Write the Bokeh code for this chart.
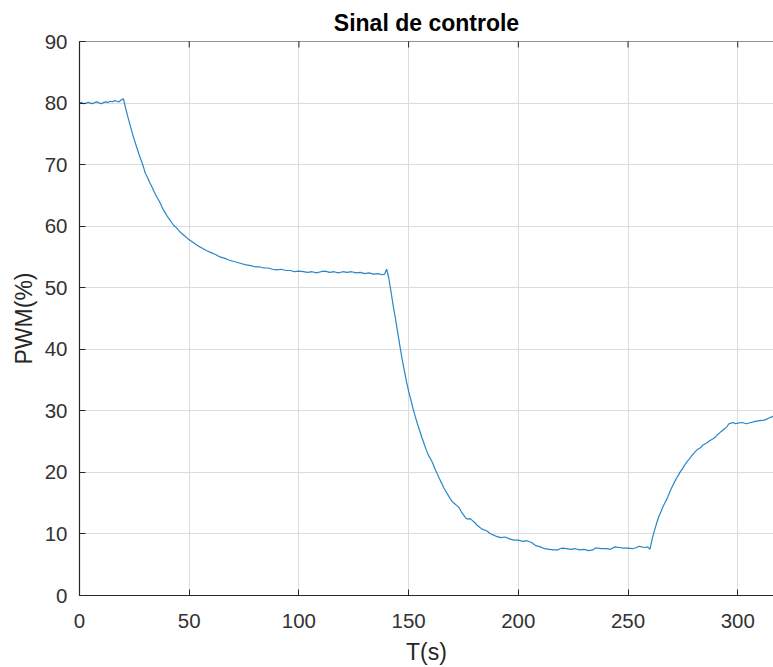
import math
from bokeh.plotting import figure
from bokeh.models import Range1d, FixedTicker, Span
from bokeh.embed import file_html
from bokeh.resources import INLINE

# ---- data ----
t_a = [0, 1, 2, 3, 4, 5, 6, 7, 8, 9, 10, 11, 12, 13, 14, 15, 16, 17, 18, 19, 20]
v_a = [80.0, 80.1, 79.9, 80.0, 80.1, 80.0, 79.9, 80.1, 80.2, 80.0, 79.9, 80.1,
       80.2, 80.1, 80.3, 80.2, 80.4, 80.3, 80.2, 80.5, 80.7]

t_b = [21, 22, 23, 24, 25, 26, 27, 28, 29, 30, 31, 32, 33, 34, 35, 36, 37, 38, 39,
       40, 41, 42, 43, 44, 45, 46, 47, 48, 49, 50, 52, 54, 56, 58, 60, 62, 64, 66,
       68, 70, 72, 74, 76, 78, 80, 82, 84, 86, 88, 90, 92, 94, 96, 98, 100, 102,
       104, 106, 108, 110, 112, 114, 116, 118, 120, 122, 124, 126, 128, 130, 132,
       134, 136, 138, 139, 140]
v_b = [79.2, 77.8, 76.5, 75.2, 74.0, 72.9, 71.8, 70.8, 69.8, 68.6, 67.9, 67.1,
       66.4, 65.6, 64.9, 64.3, 63.6, 62.8, 62.2, 61.6, 61.1, 60.6, 60.1, 59.8,
       59.4, 59.0, 58.7, 58.4, 58.1, 57.8, 57.3, 56.8, 56.4, 56.0, 55.7, 55.4,
       55.0, 54.8, 54.5, 54.3, 54.1, 53.9, 53.7, 53.6, 53.4, 53.4, 53.2, 53.2,
       53.0, 52.9, 53.0, 52.8, 52.8, 52.6, 52.7, 52.6, 52.5, 52.6, 52.4, 52.6,
       52.7, 52.5, 52.6, 52.4, 52.6, 52.5, 52.6, 52.4, 52.5, 52.3, 52.4, 52.2,
       52.3, 52.1, 52.2, 53.0]

t_c = [141, 142, 143, 144, 145, 146, 147, 148, 149, 150, 151, 152, 153, 154, 155,
       156, 157, 158, 159, 160, 161, 162, 163, 164, 165, 166, 167, 168, 169, 170,
       171, 172, 173, 174, 175, 176, 177, 178, 179, 180, 181, 182, 183, 184, 185,
       186, 187, 188, 189, 190, 192, 194, 196, 198, 200, 202, 204, 206, 208, 210,
       212, 214, 216, 218, 219, 220, 222, 224, 226, 228, 230, 232, 234, 235, 236,
       238, 240, 242, 244, 246, 248, 250, 252, 254, 255, 256, 258, 259, 260]
v_c = [51.5, 49.3, 47.0, 45.0, 42.8, 40.6, 38.5, 36.6, 34.8, 33.2, 31.8, 30.4,
       29.1, 27.9, 26.8, 25.7, 24.7, 23.7, 22.8, 22.2, 21.5, 20.6, 19.8, 19.0,
       18.3, 17.5, 16.9, 16.3, 15.7, 15.2, 14.9, 14.6, 14.3, 13.6, 13.1, 12.6,
       12.4, 12.5, 12.2, 11.9, 11.5, 11.2, 10.9, 10.7, 10.6, 10.4, 10.1, 9.9,
       9.8, 9.6, 9.4, 9.5, 9.2, 9.0, 9.0, 8.8, 8.9, 8.6, 8.1, 7.9, 7.6, 7.5,
       7.4, 7.4, 7.6, 7.7, 7.6, 7.5, 7.6, 7.4, 7.5, 7.3, 7.4, 7.7, 7.7, 7.6,
       7.6, 7.5, 7.9, 7.8, 7.7, 7.7, 7.6, 7.8, 8.0, 7.9, 7.8, 7.9, 7.5]

t_d = [261, 262, 263, 264, 265, 266, 267, 268, 269, 270, 271, 272, 273, 274, 275,
       276, 277, 278, 279, 280, 281, 282, 283, 284, 285, 286, 287, 288, 289, 290,
       291, 292, 293, 294, 295, 296, 297, 298, 299, 300, 302, 304, 306, 308, 310,
       312, 313, 314, 316, 318]
v_d = [9.2, 10.5, 11.7, 12.8, 13.6, 14.5, 15.2, 15.9, 16.8, 17.6, 18.3, 19.0,
       19.6, 20.2, 20.7, 21.3, 21.8, 22.2, 22.7, 23.1, 23.5, 23.8, 24.0, 24.4,
       24.6, 24.8, 25.1, 25.3, 25.5, 25.8, 26.2, 26.5, 26.8, 27.1, 27.4, 27.9,
       28.0, 28.1, 27.9, 28.0, 28.1, 27.9, 28.1, 28.3, 28.4, 28.5, 28.6, 28.8,
       29.1, 29.3]

time_s = t_a + t_b + t_c + t_d
pwm = v_a + v_b + v_c + v_d

x_ticks = [0, 50, 100, 150, 200, 250, 300]
y_ticks = [0, 10, 20, 30, 40, 50, 60, 70, 80, 90]
x_max = 316.3
y_max = 90

FONT = "Liberation Sans"
AX = "#262626"

p = figure(width=773, height=667, output_backend="svg", toolbar_location=None,
           x_range=Range1d(0, x_max), y_range=Range1d(0, y_max),
           min_border_left=79, min_border_right=0, min_border_top=41,
           min_border_bottom=72, title="Sinal de controle")
p.outline_line_color = None
p.background_fill_color = "white"
p.border_fill_color = "white"

p.title.text_font = FONT
p.title.text_font_size = "23px"
p.title.text_font_style = "bold"
p.title.text_color = "#000000"
p.title.align = "center"
p.title.standoff = 12

p.xgrid.grid_line_color = "#dcdcdc"
p.ygrid.grid_line_color = "#dcdcdc"
p.xgrid.ticker = FixedTicker(ticks=x_ticks)
p.ygrid.ticker = FixedTicker(ticks=y_ticks)

# top border of the box and its inward ticks
p.add_layout(Span(location=y_max, dimension="width", line_color=AX, line_width=1.2))
p.scatter(x_ticks, [y_max] * len(x_ticks), marker="dash", angle=math.pi / 2,
          size=12, line_color=AX, line_width=1)

p.line(time_s, pwm, line_color="#0072BD", line_alpha=0.85, line_width=1.2)

for ax in (p.xaxis[0], p.yaxis[0]):
    ax.axis_line_color = AX
    ax.axis_line_width = 1.2
    ax.major_tick_line_color = AX
    ax.major_tick_in = 6
    ax.major_tick_out = 0
    ax.minor_tick_line_color = None
    ax.major_label_text_font = FONT
    ax.major_label_text_font_size = "20.5px"
    ax.major_label_text_color = "#333333"
    ax.axis_label_text_font = FONT
    ax.axis_label_text_font_size = "23px"
    ax.axis_label_text_font_style = "normal"
    ax.axis_label_text_color = AX

p.xaxis.ticker = FixedTicker(ticks=x_ticks)
p.yaxis.ticker = FixedTicker(ticks=y_ticks)
p.xaxis.axis_label = "T(s)"
p.yaxis.axis_label = "PWM(%)"
p.xaxis.major_label_standoff = 18
p.xaxis.axis_label_standoff = 8
p.yaxis.major_label_standoff = 12
p.yaxis.axis_label_standoff = 5

open("out.html", "w").write(file_html(p, INLINE))
